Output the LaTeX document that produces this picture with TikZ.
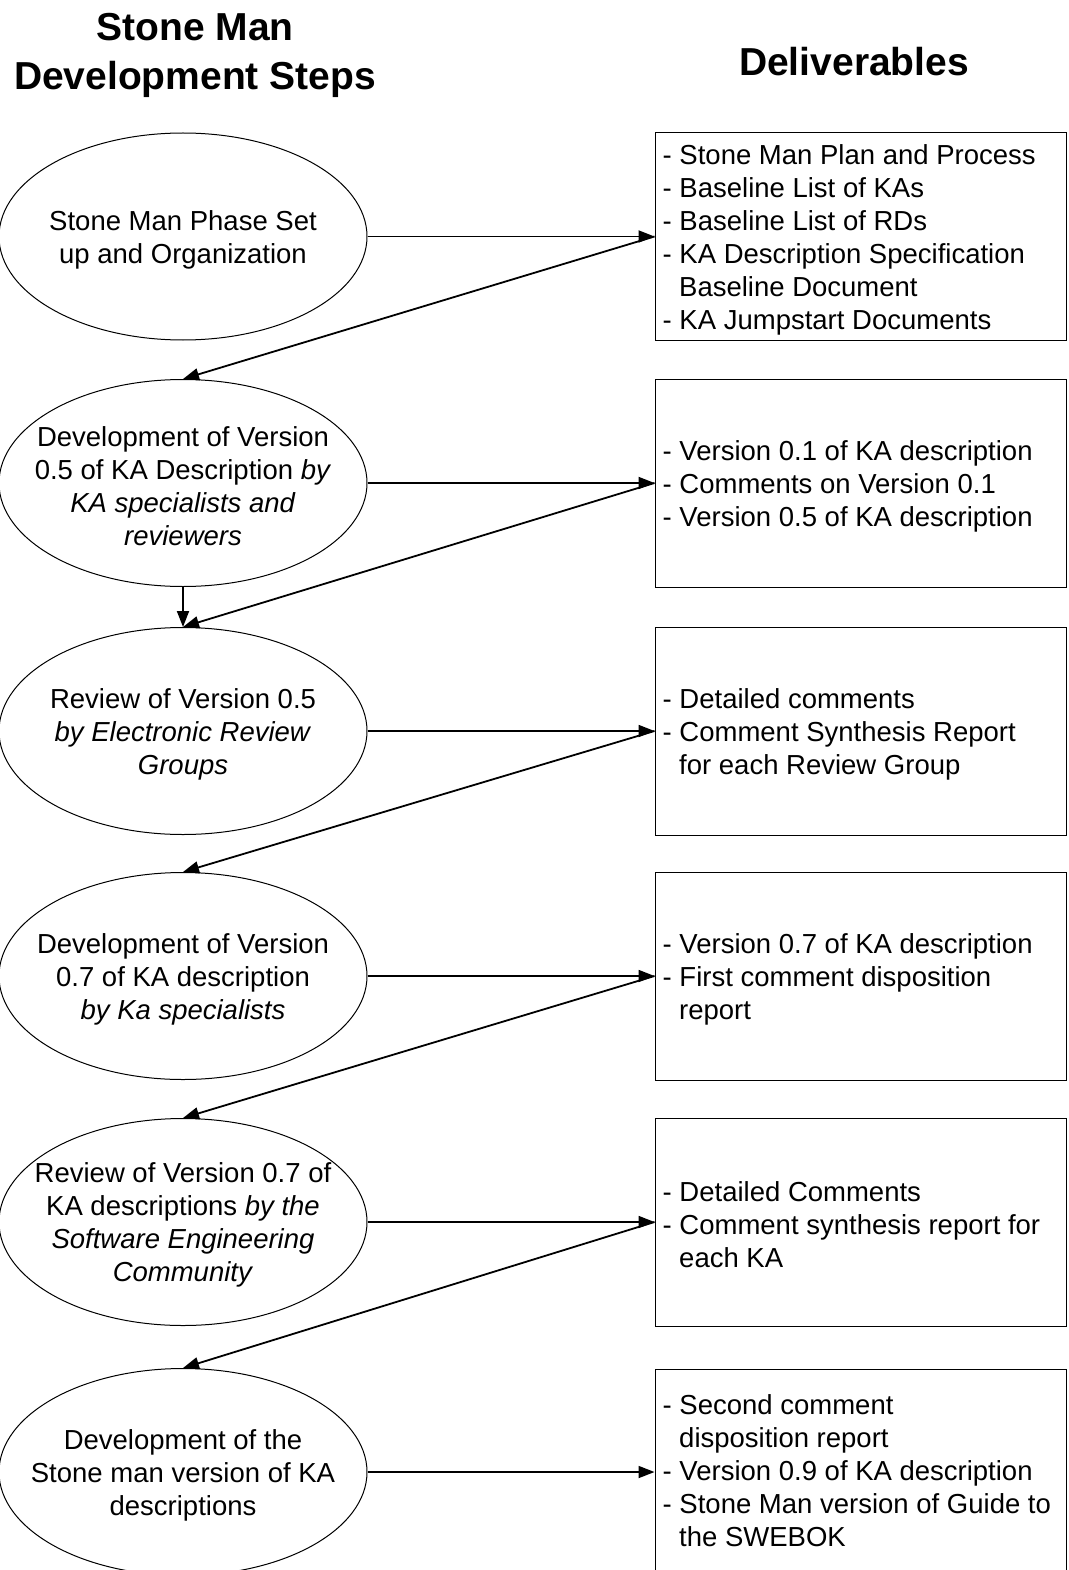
\documentclass[tikz,border=0pt]{standalone}
\usepackage{fontspec}
\setmainfont{Liberation Sans}
\usetikzlibrary{shapes.geometric,arrows.meta}
\begin{document}
\begin{tikzpicture}[x=1pt,y=-1pt,
  stepell/.style={ellipse,draw,line width=1pt,minimum width=368pt,minimum height=207pt,inner sep=0pt},
  steptxt/.style={align=center,font=\fontsize{27.5}{33}\selectfont,inner sep=0pt,yshift=-3pt},
  delbox/.style={rectangle,draw,line width=1pt,minimum width=411pt,minimum height=208pt,inner sep=0pt},
  deltxt/.style={align=left,anchor=west,font=\fontsize{27.5}{33}\selectfont,inner sep=0pt},
  flow/.style={-{Triangle[length=16pt,width=12pt]},line width=1.8pt},
  coltitle/.style={align=center,font=\fontsize{39}{49}\selectfont\bfseries,inner sep=0pt}]
\useasboundingbox (0,0) rectangle (1068,1570);

\node[coltitle] (t1) at (195,55) {Stone Man\\Development Steps};
\node[coltitle] (t2) at (854,62) {Deliverables};

% ellipses
\node[stepell] (e1) at (183,236.5) {};
\node[stepell] (e2) at (183,483) {};
\node[stepell] (e3) at (183,731) {};
\node[stepell] (e4) at (183,976) {};
\node[stepell] (e5) at (183,1222) {};
\node[stepell] (e6) at (183,1472) {};

\node[steptxt] (e1t) at (e1) {Stone Man Phase Set\\up and Organization};
\node[steptxt] (e2t) at (e2) {Development of Version\\0.5 of KA Description \textit{by}\\\textit{KA specialists and}\\\textit{reviewers}};
\node[steptxt] (e3t) at (e3) {Review of Version 0.5\\\textit{by Electronic Review}\\\textit{Groups}};
\node[steptxt] (e4t) at (e4) {Development of Version\\0.7 of KA description\\\textit{by Ka specialists}};
\node[steptxt] (e5t) at (e5) {Review of Version 0.7 of\\KA descriptions \textit{by the}\\\textit{Software Engineering}\\\textit{Community}};
\node[steptxt] (e6t) at (e6) {Development of the\\Stone man version of KA\\descriptions};

% boxes
\node[delbox] (b1) at (860.5,236.5) {};
\node[delbox] (b2) at (860.5,483) {};
\node[delbox] (b3) at (860.5,731) {};
\node[delbox] (b4) at (860.5,976) {};
\node[delbox] (b5) at (860.5,1222) {};
\node[delbox] (b6) at (860.5,1473) {};

\node[deltxt] (b1t) at ([xshift=8pt,yshift=-3pt]b1.west) {- Stone Man Plan and Process\\- Baseline List of KAs\\- Baseline List of RDs\\- KA Description Specification\\\hspace*{16.5pt}Baseline Document\\- KA Jumpstart Documents};
\node[deltxt] (b2t) at ([xshift=8pt,yshift=-3pt]b2.west) {- Version 0.1 of KA description\\- Comments on Version 0.1\\- Version 0.5 of KA description};
\node[deltxt] (b3t) at ([xshift=8pt,yshift=-3pt]b3.west) {- Detailed comments\\- Comment Synthesis Report\\\hspace*{16.5pt}for each Review Group};
\node[deltxt] (b4t) at ([xshift=8pt,yshift=-3pt]b4.west) {- Version 0.7 of KA description\\- First comment disposition\\\hspace*{16.5pt}report};
\node[deltxt] (b5t) at ([xshift=8pt,yshift=-3pt]b5.west) {- Detailed Comments\\- Comment synthesis report for\\\hspace*{16.5pt}each KA};
\node[deltxt] (b6t) at ([xshift=8pt,yshift=2pt]b6.west) {- Second comment\\\hspace*{16.5pt}disposition report\\- Version 0.9 of KA description\\- Stone Man version of Guide to\\\hspace*{16.5pt}the SWEBOK};

% horizontal arrows
\draw[flow] (e1.east) -- (e1.east -| b1.west);
\draw[flow] (e2.east) -- (e2.east -| b2.west);
\draw[flow] (e3.east) -- (e3.east -| b3.west);
\draw[flow] (e4.east) -- (e4.east -| b4.west);
\draw[flow] (e5.east) -- (e5.east -| b5.west);
\draw[flow] (e6.east) -- (e6.east -| b6.west);

% diagonal arrows
\draw[flow] (b1.west) -- (e2.north);
\draw[flow] (b2.west) -- (e3.north);
\draw[flow] (b3.west) -- (e4.north);
\draw[flow] (b4.west) -- (e5.north);
\draw[flow] (b5.west) -- (e6.north);

% vertical arrow
\draw[flow] (e2.south) -- (e3.north);
\end{tikzpicture}
\end{document}
